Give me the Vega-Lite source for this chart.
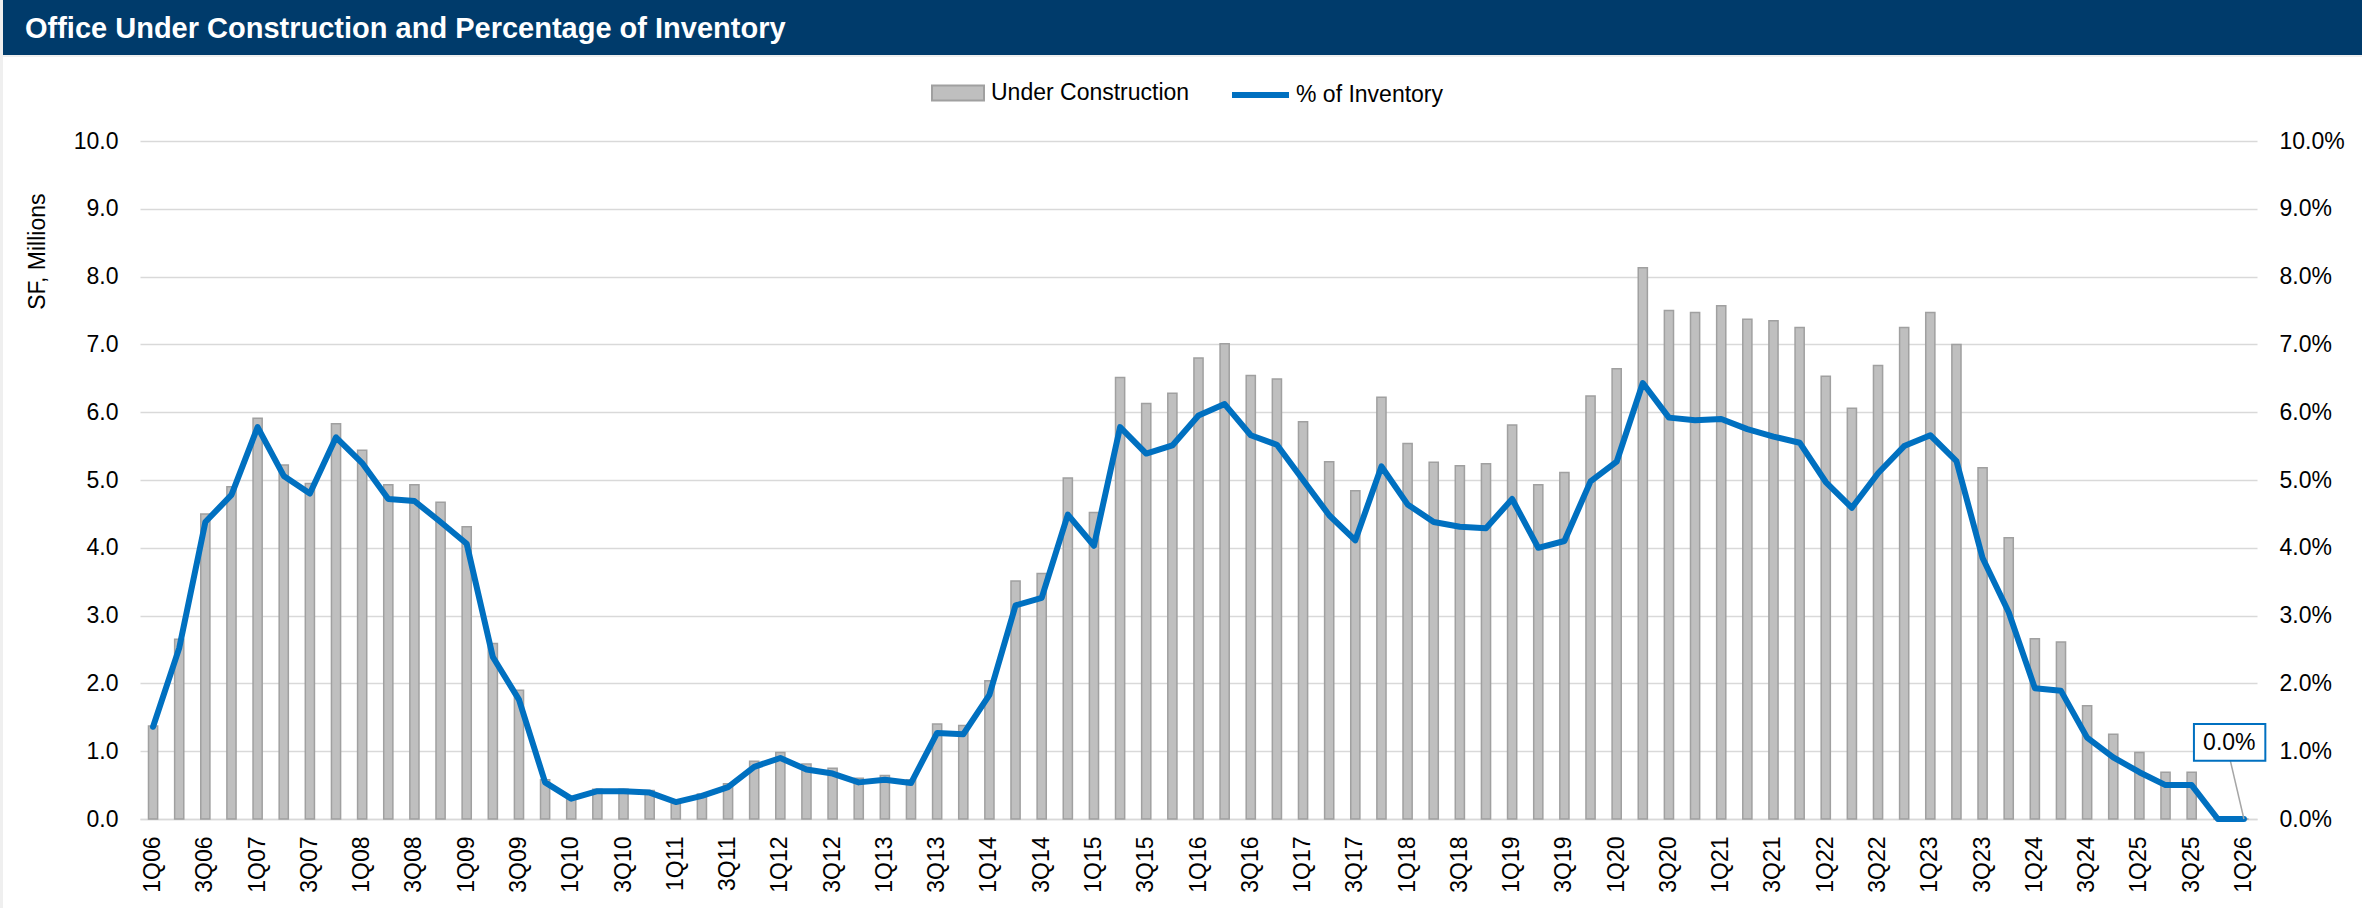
{
  "$schema": "https://vega.github.io/schema/vega-lite/v6.json",
  "padding": {"left": 3, "top": 0, "right": 0, "bottom": 0},
  "background": "#EFEFEF",
  "spacing": 2,
  "datasets": {
    "hdr": [{"t": "Office Under Construction and Percentage of Inventory"}],
    "uc": [
      {"q": "1Q06", "uc": 1.37, "pct": 1.36},
      {"q": "2Q06", "uc": 2.65, "pct": 2.52},
      {"q": "3Q06", "uc": 4.50, "pct": 4.38},
      {"q": "4Q06", "uc": 4.90, "pct": 4.78},
      {"q": "1Q07", "uc": 5.91, "pct": 5.78},
      {"q": "2Q07", "uc": 5.22, "pct": 5.06},
      {"q": "3Q07", "uc": 4.95, "pct": 4.80},
      {"q": "4Q07", "uc": 5.83, "pct": 5.63},
      {"q": "1Q08", "uc": 5.44, "pct": 5.25},
      {"q": "2Q08", "uc": 4.93, "pct": 4.72},
      {"q": "3Q08", "uc": 4.93, "pct": 4.69},
      {"q": "4Q08", "uc": 4.67, "pct": 4.38},
      {"q": "1Q09", "uc": 4.31, "pct": 4.06},
      {"q": "2Q09", "uc": 2.59, "pct": 2.39},
      {"q": "3Q09", "uc": 1.90, "pct": 1.76},
      {"q": "4Q09", "uc": 0.58, "pct": 0.54},
      {"q": "1Q10", "uc": 0.30, "pct": 0.30},
      {"q": "2Q10", "uc": 0.44, "pct": 0.41},
      {"q": "3Q10", "uc": 0.44, "pct": 0.41},
      {"q": "4Q10", "uc": 0.42, "pct": 0.39},
      {"q": "1Q11", "uc": 0.23, "pct": 0.25},
      {"q": "2Q11", "uc": 0.37, "pct": 0.34},
      {"q": "3Q11", "uc": 0.52, "pct": 0.47},
      {"q": "4Q11", "uc": 0.85, "pct": 0.77},
      {"q": "1Q12", "uc": 0.98, "pct": 0.90},
      {"q": "2Q12", "uc": 0.81, "pct": 0.73},
      {"q": "3Q12", "uc": 0.75, "pct": 0.67},
      {"q": "4Q12", "uc": 0.60, "pct": 0.54},
      {"q": "1Q13", "uc": 0.64, "pct": 0.58},
      {"q": "2Q13", "uc": 0.58, "pct": 0.53},
      {"q": "3Q13", "uc": 1.40, "pct": 1.27},
      {"q": "4Q13", "uc": 1.38, "pct": 1.25},
      {"q": "1Q14", "uc": 2.04, "pct": 1.83},
      {"q": "2Q14", "uc": 3.51, "pct": 3.15},
      {"q": "3Q14", "uc": 3.62, "pct": 3.26},
      {"q": "4Q14", "uc": 5.03, "pct": 4.49},
      {"q": "1Q15", "uc": 4.52, "pct": 4.03},
      {"q": "2Q15", "uc": 6.51, "pct": 5.78},
      {"q": "3Q15", "uc": 6.13, "pct": 5.39},
      {"q": "4Q15", "uc": 6.28, "pct": 5.51},
      {"q": "1Q16", "uc": 6.80, "pct": 5.95},
      {"q": "2Q16", "uc": 7.01, "pct": 6.12},
      {"q": "3Q16", "uc": 6.54, "pct": 5.66},
      {"q": "4Q16", "uc": 6.49, "pct": 5.52},
      {"q": "1Q17", "uc": 5.86, "pct": 5.00},
      {"q": "2Q17", "uc": 5.27, "pct": 4.48},
      {"q": "3Q17", "uc": 4.84, "pct": 4.11},
      {"q": "4Q17", "uc": 6.22, "pct": 5.20},
      {"q": "1Q18", "uc": 5.54, "pct": 4.64},
      {"q": "2Q18", "uc": 5.26, "pct": 4.38},
      {"q": "3Q18", "uc": 5.21, "pct": 4.31},
      {"q": "4Q18", "uc": 5.24, "pct": 4.29},
      {"q": "1Q19", "uc": 5.81, "pct": 4.72},
      {"q": "2Q19", "uc": 4.93, "pct": 4.00},
      {"q": "3Q19", "uc": 5.11, "pct": 4.10},
      {"q": "4Q19", "uc": 6.24, "pct": 4.98},
      {"q": "1Q20", "uc": 6.64, "pct": 5.27},
      {"q": "2Q20", "uc": 8.13, "pct": 6.43},
      {"q": "3Q20", "uc": 7.50, "pct": 5.92},
      {"q": "4Q20", "uc": 7.47, "pct": 5.88},
      {"q": "1Q21", "uc": 7.57, "pct": 5.90},
      {"q": "2Q21", "uc": 7.37, "pct": 5.75},
      {"q": "3Q21", "uc": 7.35, "pct": 5.64},
      {"q": "4Q21", "uc": 7.25, "pct": 5.55},
      {"q": "1Q22", "uc": 6.53, "pct": 4.97},
      {"q": "2Q22", "uc": 6.06, "pct": 4.59},
      {"q": "3Q22", "uc": 6.69, "pct": 5.10},
      {"q": "4Q22", "uc": 7.25, "pct": 5.50},
      {"q": "1Q23", "uc": 7.47, "pct": 5.66},
      {"q": "2Q23", "uc": 7.00, "pct": 5.28},
      {"q": "3Q23", "uc": 5.18, "pct": 3.85},
      {"q": "4Q23", "uc": 4.15, "pct": 3.05},
      {"q": "1Q24", "uc": 2.66, "pct": 1.93},
      {"q": "2Q24", "uc": 2.61, "pct": 1.89},
      {"q": "3Q24", "uc": 1.67, "pct": 1.20},
      {"q": "4Q24", "uc": 1.25, "pct": 0.91},
      {"q": "1Q25", "uc": 0.98, "pct": 0.69},
      {"q": "2Q25", "uc": 0.69, "pct": 0.50},
      {"q": "3Q25", "uc": 0.69, "pct": 0.50},
      {"q": "4Q25", "uc": 0, "pct": 0},
      {"q": "1Q26", "uc": 0, "pct": 0, "lbl": "0.0%"}
    ]
  },
  "vconcat": [
    {
      "width": 2359,
      "height": 55,
      "view": {"fill": "#003B6B", "stroke": null},
      "data": {"name": "hdr"},
      "mark": {"type": "text", "align": "left", "baseline": "middle", "color": "#FFFFFF", "font": "Liberation Sans", "fontWeight": "bold", "fontSize": 29, "dx": 22, "dy": 1},
      "encoding": {
        "x": {"datum": 0, "type": "quantitative", "scale": {"domain": [0, 1]}, "axis": null},
        "y": {"datum": 0.5, "type": "quantitative", "scale": {"domain": [0, 1]}, "axis": null},
        "text": {"field": "t", "type": "nominal"}
      }
    },
    {
      "width": 2359,
      "height": 851,
      "view": {"fill": "#FFFFFF", "stroke": null},
      "data": {"name": "uc"},
      "encoding": {
        "x": {
          "field": "q", "type": "ordinal", "sort": null,
          "scale": {"range": [137, 2254], "paddingInner": 0.65, "paddingOuter": 0.325},
          "axis": {
            "orient": "bottom", "offset": -89, "title": null,
            "labelAngle": 270, "labelFontSize": 23, "labelPadding": 17, "labelColor": "#000000",
            "labelOverlap": false,
            "labelExpr": "(substring(datum.value, 0, 1) == '1' || substring(datum.value, 0, 1) == '3') ? datum.value : ''",
            "ticks": false, "grid": false,
            "domain": true, "domainColor": "#D9D9D9", "domainWidth": 1.5
          }
        }
      },
      "layer": [
        {
          "mark": {"type": "bar", "stroke": "#A0A0A0", "strokeWidth": 1.5},
          "encoding": {
            "y": {
              "field": "uc", "type": "quantitative",
              "scale": {"domain": [0, 10], "range": [762, 84], "nice": false},
              "axis": {
                "orient": "left", "offset": -137,
                "values": [0, 1, 2, 3, 4, 5, 6, 7, 8, 9, 10], "format": ".1f",
                "grid": true, "gridColor": "#D9D9D9", "gridWidth": 1.5,
                "domain": false, "ticks": false,
                "labelFontSize": 23, "labelPadding": 22, "labelColor": "#000000",
                "title": "SF, Millions", "titleFontSize": 23, "titleFontWeight": "normal", "titleColor": "#000000",
                "titleAngle": 270, "titleAlign": "right", "titleBaseline": "bottom",
                "titleX": -91, "titleY": 136
              }
            },
            "fill": {
              "datum": "Under Construction",
              "scale": {"domain": ["Under Construction"], "range": ["#BFBFBF"]},
              "legend": {
                "orient": "none", "legendX": 928, "legendY": 66, "direction": "horizontal",
                "title": null, "padding": 0,
                "labelFontSize": 23, "labelColor": "#000000", "labelOffset": 6, "labelLimit": 400,
                "symbolType": "M-1,-0.29L1,-0.29L1,0.29L-1,0.29Z", "symbolSize": 2704,
                "symbolStrokeColor": "#A0A0A0", "symbolStrokeWidth": 2, "symbolOpacity": 1
              }
            }
          }
        },
        {
          "mark": {"type": "line", "strokeWidth": 6, "strokeJoin": "round", "strokeCap": "round"},
          "encoding": {
            "y": {
              "field": "pct", "type": "quantitative",
              "scale": {"domain": [0, 10], "range": [762, 84], "nice": false},
              "axis": {
                "orient": "right", "offset": -105,
                "values": [0, 1, 2, 3, 4, 5, 6, 7, 8, 9, 10],
                "labelExpr": "format(datum.value, '.1f') + '%'",
                "grid": false, "domain": false, "ticks": false,
                "labelFontSize": 23, "labelPadding": 22, "labelColor": "#000000",
                "title": null
              }
            },
            "stroke": {
              "datum": "% of Inventory",
              "scale": {"domain": ["% of Inventory"], "range": ["#0070C0"]},
              "legend": {
                "orient": "none", "legendX": 1226, "legendY": 63.5, "direction": "horizontal",
                "title": null, "padding": 0,
                "labelFontSize": 23, "labelColor": "#000000", "labelOffset": 4, "labelLimit": 400,
                "symbolType": "stroke", "symbolSize": 3249, "symbolStrokeWidth": 6, "symbolOpacity": 1
              }
            }
          }
        },
        {
          "transform": [{"filter": "isValid(datum.lbl)"}],
          "mark": {"type": "point", "shape": "M-1.36,-5.83L0,0", "size": 400, "filled": false, "stroke": "#A6A6A6", "strokeWidth": 1.5, "opacity": 1},
          "encoding": {
            "y": {"field": "pct", "type": "quantitative", "scale": {"domain": [0, 10], "range": [762, 84], "nice": false}, "axis": null}
          }
        },
        {
          "transform": [{"filter": "isValid(datum.lbl)"}],
          "mark": {"type": "point", "shape": "M-5,-9.5L2.14,-9.5L2.14,-5.83L-5,-5.83Z", "size": 400, "filled": true, "fill": "#FFFFFF", "stroke": "#0070C0", "strokeWidth": 2, "opacity": 1},
          "encoding": {
            "y": {"field": "pct", "type": "quantitative", "scale": {"domain": [0, 10], "range": [762, 84], "nice": false}, "axis": null}
          }
        },
        {
          "transform": [{"filter": "isValid(datum.lbl)"}],
          "mark": {"type": "text", "dx": -14.6, "dy": -76, "fontSize": 23, "color": "#000000", "align": "center", "baseline": "middle"},
          "encoding": {
            "y": {"field": "pct", "type": "quantitative", "scale": {"domain": [0, 10], "range": [762, 84], "nice": false}, "axis": null},
            "text": {"field": "lbl", "type": "nominal"}
          }
        }
      ],
      "resolve": {"scale": {"y": "independent"}}
    }
  ],
  "config": {
    "font": "Liberation Sans",
    "view": {"stroke": null},
    "axis": {"labelFont": "Liberation Sans", "titleFont": "Liberation Sans"},
    "legend": {"labelFont": "Liberation Sans"}
  }
}
